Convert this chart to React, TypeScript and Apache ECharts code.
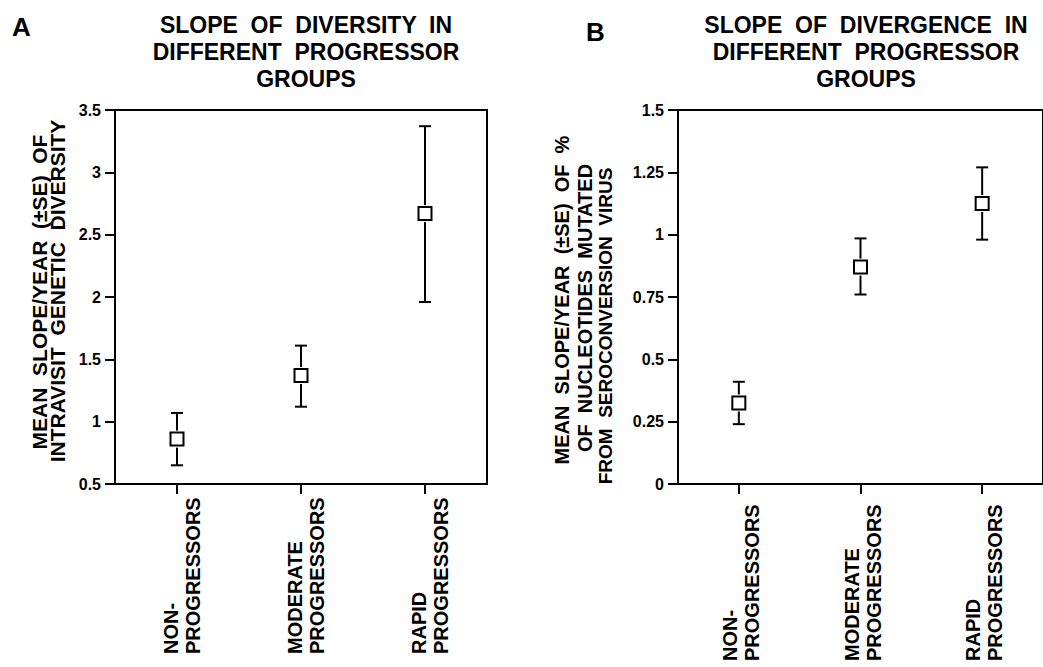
import React, { useEffect, useRef } from "react";
import * as echarts from "echarts";

const categories = ["NON-\nPROGRESSORS", "MODERATE\nPROGRESSORS", "RAPID\nPROGRESSORS"];

// Panel A: slope of intravisit genetic diversity
const diversityMean = [0.86, 1.37, 2.67];
const diversityLower = [0.65, 1.12, 1.96];
const diversityUpper = [1.07, 1.61, 3.37];
const diversityAxis = { min: 0.5, max: 3.5, interval: 0.5 };

// Panel B: slope of divergence (% nucleotides mutated from seroconversion virus)
const divergenceMean = [0.325, 0.87, 1.125];
const divergenceLower = [0.24, 0.76, 0.98];
const divergenceUpper = [0.41, 0.985, 1.27];
const divergenceAxis = { min: 0, max: 1.5, interval: 0.25 };

const titleA = "SLOPE  OF  DIVERSITY  IN\nDIFFERENT  PROGRESSOR\nGROUPS";
const titleB = "SLOPE  OF  DIVERGENCE  IN\nDIFFERENT  PROGRESSOR\nGROUPS";
const yNameA = ["MEAN  SLOPE/YEAR  (±SE)  OF", "INTRAVISIT  GENETIC  DIVERSITY"];
const yNameB = ["MEAN  SLOPE/YEAR  (±SE)  OF  %", "OF  NUCLEOTIDES  MUTATED", "FROM  SEROCONVERSION  VIRUS"];

const FONT = '"Liberation Sans", Arial, Helvetica, sans-serif';

function errorRender(params: any, api: any) {
  const i = api.value(0);
  const lo = api.coord([i, api.value(1)]);
  const hi = api.coord([i, api.value(2)]);
  const half = 6;
  const style = { stroke: "#000", lineWidth: 2 };
  return {
    type: "group",
    children: [
      { type: "line", shape: { x1: lo[0], y1: lo[1], x2: hi[0], y2: hi[1] }, style },
      { type: "line", shape: { x1: hi[0] - half, y1: hi[1], x2: hi[0] + half, y2: hi[1] }, style },
      { type: "line", shape: { x1: lo[0] - half, y1: lo[1], x2: lo[0] + half, y2: lo[1] }, style },
    ],
  };
}

function xAxisFor(gridIndex: number, margin: number, shift: number) {
  return {
    type: "category",
    gridIndex,
    data: categories,
    boundaryGap: true,
    axisLine: { show: true, lineStyle: { color: "#000", width: 2 } },
    axisTick: { show: true, alignWithLabel: true, length: 10, lineStyle: { color: "#000", width: 2 } },
    splitLine: { show: false },
    axisLabel: {
      interval: 0,
      rotate: 90,
      margin,
      padding: [shift, 0, 0, 0],
      formatter: (v: string) => v.split("\n").map((s) => `{a|${s}}`).join("\n"),
      rich: {
        a: { width: 164, align: "left", fontSize: 20, fontWeight: "bold", fontFamily: FONT, color: "#000", lineHeight: 22 },
      },
    },
  };
}

function yAxisFor(gridIndex: number, ax: { min: number; max: number; interval: number }) {
  return {
    type: "value",
    gridIndex,
    min: ax.min,
    max: ax.max,
    interval: ax.interval,
    axisLine: { show: true, lineStyle: { color: "#000", width: 2 } },
    axisTick: { show: true, length: 10, lineStyle: { color: "#000", width: 2 } },
    splitLine: { show: false },
    axisLabel: { margin: 14, fontSize: 16, fontWeight: "bold", fontFamily: FONT, color: "#000" },
  };
}

function rotText(text: string, x: number, y: number, size: number) {
  return {
    type: "text",
    x,
    y,
    rotation: Math.PI / 2,
    style: {
      text,
      align: "center",
      verticalAlign: "middle",
      fill: "#000",
      font: `bold ${size}px ${FONT}`,
    },
  };
}

export default function App() {
  const ref = useRef<HTMLDivElement>(null);
  useEffect(() => {
    if (!ref.current) return;
    const chart = echarts.init(ref.current, null, { renderer: "svg" });
    const titleStyle = { fontSize: 23, fontWeight: "bold", fontFamily: FONT, color: "#000", lineHeight: 27 };
    chart.setOption({
      animation: false,
      backgroundColor: "#fff",
      title: [
        { text: titleA, left: 306, top: 11, textAlign: "center", padding: 0, textStyle: titleStyle },
        { text: titleB, left: 866, top: 11, textAlign: "center", padding: 0, textStyle: titleStyle },
      ],
      grid: [
        { left: 115, top: 110, width: 372, height: 374, show: true, borderColor: "#000", borderWidth: 2, backgroundColor: "transparent" },
        { left: 678, top: 110, width: 373, height: 374, show: true, borderColor: "#000", borderWidth: 2, backgroundColor: "transparent" },
      ],
      xAxis: [xAxisFor(0, 6, 10), xAxisFor(1, 13, 4)],
      yAxis: [yAxisFor(0, diversityAxis), yAxisFor(1, divergenceAxis)],
      graphic: [
        { type: "text", x: 12, y: 27, style: { text: "A", align: "left", verticalAlign: "middle", fill: "#000", font: `bold 26px ${FONT}` } },
        { type: "text", x: 586, y: 32, style: { text: "B", align: "left", verticalAlign: "middle", fill: "#000", font: `bold 26px ${FONT}` } },
        rotText(yNameA[0], 39, 292, 21),
        rotText(yNameA[1], 57, 291, 21),
        rotText(yNameB[0], 562, 300, 20),
        rotText(yNameB[1], 585, 308, 20),
        rotText(yNameB[2], 605, 326, 19),
      ],
      series: [
        {
          name: "Diversity SE",
          type: "custom",
          xAxisIndex: 0,
          yAxisIndex: 0,
          renderItem: errorRender,
          encode: { x: 0, y: [1, 2] },
          data: categories.map((c, i) => [i, diversityLower[i], diversityUpper[i]]),
          z: 2,
        },
        {
          name: "Diversity gap",
          type: "scatter",
          xAxisIndex: 0,
          yAxisIndex: 0,
          symbol: "rect",
          symbolSize: 17,
          itemStyle: { color: "#fff", borderWidth: 0, opacity: 1 },
          data: diversityMean.map((v, i) => [i, v]),
          z: 3,
          silent: true,
        },
        {
          name: "Diversity mean",
          type: "scatter",
          xAxisIndex: 0,
          yAxisIndex: 0,
          symbol: "rect",
          symbolSize: 13,
          itemStyle: { color: "#fff", borderColor: "#000", borderWidth: 2, opacity: 1 },
          data: diversityMean.map((v, i) => [i, v]),
          z: 4,
        },
        {
          name: "Divergence SE",
          type: "custom",
          xAxisIndex: 1,
          yAxisIndex: 1,
          renderItem: errorRender,
          encode: { x: 0, y: [1, 2] },
          data: categories.map((c, i) => [i, divergenceLower[i], divergenceUpper[i]]),
          z: 2,
        },
        {
          name: "Divergence gap",
          type: "scatter",
          xAxisIndex: 1,
          yAxisIndex: 1,
          symbol: "rect",
          symbolSize: 17,
          itemStyle: { color: "#fff", borderWidth: 0, opacity: 1 },
          data: divergenceMean.map((v, i) => [i, v]),
          z: 3,
          silent: true,
        },
        {
          name: "Divergence mean",
          type: "scatter",
          xAxisIndex: 1,
          yAxisIndex: 1,
          symbol: "rect",
          symbolSize: 13,
          itemStyle: { color: "#fff", borderColor: "#000", borderWidth: 2, opacity: 1 },
          data: divergenceMean.map((v, i) => [i, v]),
          z: 4,
        },
      ],
    });
    return () => chart.dispose();
  }, []);
  return <div ref={ref} style={{ position: "absolute", left: 0, top: 0, width: 1043, height: 667 }} />;
}
